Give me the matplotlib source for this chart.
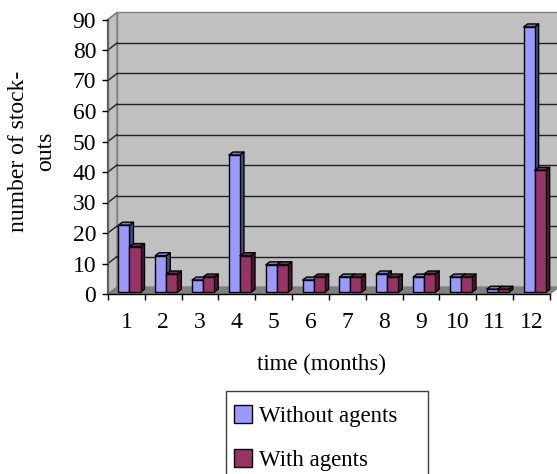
import matplotlib
matplotlib.use('Agg')
import matplotlib.pyplot as plt
from matplotlib.patches import Patch, Polygon, Rectangle

months = [1, 2, 3, 4, 5, 6, 7, 8, 9, 10, 11, 12]
without_agents = [22, 12, 4, 45, 9, 4, 5, 6, 5, 5, 1, 87]
with_agents = [15, 6, 5, 12, 9, 5, 5, 5, 6, 5, 1, 40]
y_ticks = [0, 10, 20, 30, 40, 50, 60, 70, 80, 90]

plt.rcParams['font.family'] = ['Liberation Serif', 'DejaVu Serif']
plt.rcParams['font.size'] = 17

W, H = 557, 474
LEFT, RIGHT, BOTTOM, TOP = 108, 550, 294, 19.5
px_x = 12 / (RIGHT - LEFT)
px_y = 90 / (BOTTOM - TOP)

# depth of the fake 3d box and of the bars, in data units
wall_dx = 9 * px_x
wall_dy = 7 * px_y
bar_shift_y = 1.7 * px_y
bar_dx = 4 * px_x
bar_dy = 3 * px_y
bar_w = 0.3


def add_poly(ax, pts, color, edge='black', lw=1.0, z=2):
    ax.add_patch(Polygon(pts, closed=True, facecolor=color, edgecolor=edge,
                         linewidth=lw, clip_on=False, zorder=z, joinstyle='round'))


def draw_bar(ax, x, value, front, side, top, z):
    y0 = bar_shift_y
    y1 = value + bar_shift_y
    add_poly(ax, [(x + bar_w, y0), (x + bar_w + bar_dx, y0 + bar_dy),
                  (x + bar_w + bar_dx, y1 + bar_dy), (x + bar_w, y1)], side, z=z)
    add_poly(ax, [(x, y1), (x + bar_dx, y1 + bar_dy),
                  (x + bar_w + bar_dx, y1 + bar_dy), (x + bar_w, y1)], top, z=z)
    ax.bar(x, value, bar_w, bottom=y0, align='edge', color=front, edgecolor='black',
           linewidth=1.0, clip_on=False, zorder=z + 0.1)


fig = plt.figure(figsize=(W / 100, H / 100), dpi=100)
ax = fig.add_axes([LEFT / W, 1 - BOTTOM / H, (RIGHT - LEFT) / W, (BOTTOM - TOP) / H])
ax.set_xlim(0, 12)
ax.set_ylim(0, 90)
ax.patch.set_visible(False)
for name in ['top', 'right']:
    ax.spines[name].set_visible(False)
ax.spines['left'].set_color('#606060')
ax.spines['left'].set_linewidth(1.6)
ax.spines['bottom'].set_color('black')
ax.spines['bottom'].set_linewidth(1.0)
ax.spines['left'].set_zorder(1.5)

# walls and floor
add_poly(ax, [(wall_dx, wall_dy), (12 + wall_dx, wall_dy), (12 + wall_dx, 90 + wall_dy),
              (wall_dx, 90 + wall_dy)], '#C0C0C0', edge='#808080', lw=1.0, z=0)
add_poly(ax, [(0, 0), (wall_dx, wall_dy), (wall_dx, 90 + wall_dy), (0, 90)],
         '#C0C0C0', edge='#808080', lw=1.0, z=0)
add_poly(ax, [(0, 0), (12, 0), (12 + wall_dx, wall_dy), (wall_dx, wall_dy)],
         '#808080', edge='#808080', lw=0.8, z=0.5)

# grid on the back wall and the slanted bit on the side wall
for v in y_ticks[1:-1]:
    ax.plot([wall_dx, 12 + wall_dx], [v + wall_dy, v + wall_dy], color='#202020',
            lw=1.0, clip_on=False, zorder=1)
for v in y_ticks[1:]:
    ax.plot([0, wall_dx], [v, v + wall_dy], color='#202020' if v < 90 else '#808080',
            lw=1.0, clip_on=False, zorder=1)

for i in range(len(months)):
    x = i + (10.4 * px_x)
    draw_bar(ax, x, without_agents[i], '#9999FF', '#4D4D80', '#7A7ACC', 3 + i)
    draw_bar(ax, x + bar_w, with_agents[i], '#993366', '#4D1A33', '#7A2952', 3.4 + i)

ax.set_xticks(range(13))
ax.set_xticklabels([])
ax.set_xticks([m - 0.5 for m in months], labels=months, minor=True)
ax.tick_params(axis='x', which='major', length=4, width=1, direction='out')
ax.tick_params(axis='x', which='minor', length=0, pad=13, labelsize=17)
ax.set_yticks(y_ticks)
ax.tick_params(axis='y', length=4, width=1, pad=4.5, labelsize=17)

ax.set_xlabel('time (months)', fontsize=16.5)
ax.xaxis.set_label_coords((321.5 - LEFT) / (RIGHT - LEFT), -(354 - BOTTOM) / (BOTTOM - TOP))
ax.set_ylabel('number of stock-\nouts', fontsize=17, linespacing=1.38)
ax.yaxis.set_label_coords((56 - LEFT) / (RIGHT - LEFT), (BOTTOM - 151) / (BOTTOM - TOP))

# legend box runs off the bottom of the picture
fig.add_artist(Rectangle((226 / W, -0.05), (428 - 226) / W, 1 - 391 / H + 0.05,
                         transform=fig.transFigure, facecolor='white',
                         edgecolor='#404040', linewidth=1.0))
handles = [Patch(facecolor='#9999FF', edgecolor='black', label='Without agents'),
           Patch(facecolor='#993366', edgecolor='black', label='With agents')]
fig.legend(handles=handles, loc='upper left', bbox_to_anchor=(234 / W, 1 - 405 / H),
           borderaxespad=0, fontsize=16.5, handlelength=0.8, handleheight=0.8,
           handletextpad=0.3, labelspacing=0.98, borderpad=0, frameon=False)

fig.savefig('out.png', dpi=100)
